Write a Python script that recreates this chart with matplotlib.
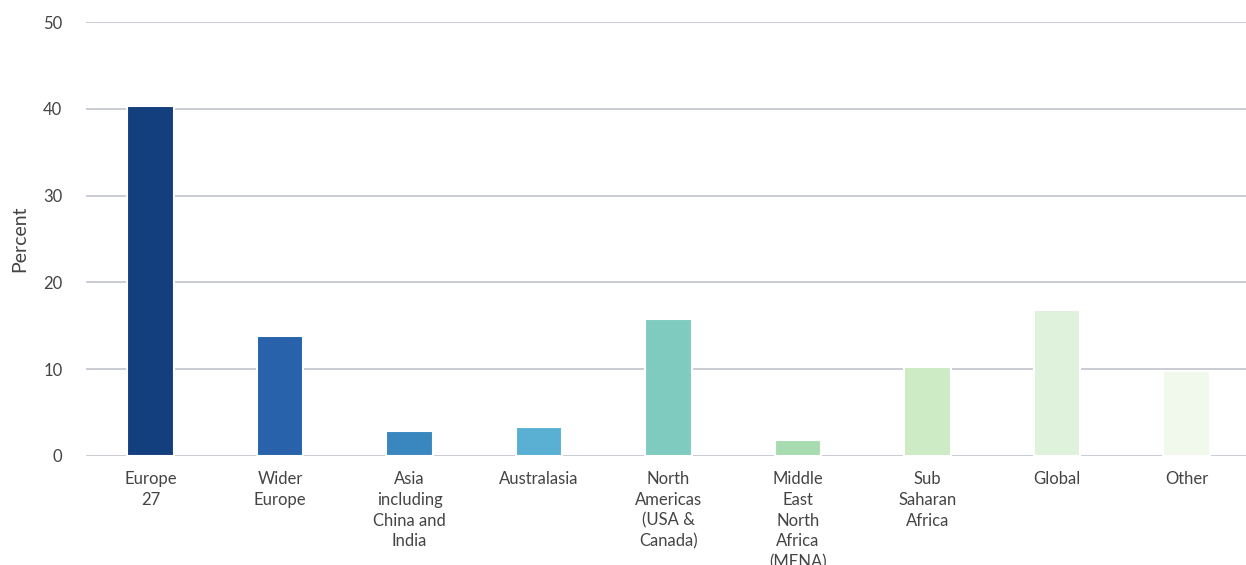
import matplotlib
matplotlib.use("Agg")
import matplotlib.pyplot as plt

# regions and share of responses (percent)
regions = ["Europe\n27", "Wider\nEurope", "Asia\nincluding\nChina and\nIndia", "Australasia",
           "North\nAmericas\n(USA &\nCanada)", "Middle\nEast\nNorth\nAfrica\n(MENA)",
           "Sub\nSaharan\nAfrica", "Global", "Other"]
percent = [40.3, 13.8, 2.9, 3.3, 15.8, 1.8, 10.2, 16.8, 9.8]
colours = ["#143f7f", "#2762ab", "#3a87c0", "#5ab0d3", "#7fcbc0",
           "#a7dcb0", "#cdebc4", "#dff2dc", "#f1f8ec"]
yticks = [0, 10, 20, 30, 40, 50]

plt.rcParams['font.family'] = ['Lato', 'DejaVu Sans']

fig = plt.figure(figsize=(12.46, 5.65), dpi=100)
ax = fig.add_axes([0.069, 0.193, 0.931, 0.768])

x = list(range(len(regions)))
ax.bar(x, percent, width=0.36, color=colours, edgecolor="white", linewidth=1.5, zorder=3)

ax.set_xlim(-0.5, 8.46)
ax.set_ylim(0, 50)
ax.set_yticks(yticks)
ax.set_xticks(x)
ax.set_xticklabels(regions, fontsize=12, color="#444444", linespacing=1.36, va="top")
ax.tick_params(axis="y", labelsize=12, labelcolor="#444444", length=0, pad=17)
ax.tick_params(axis="x", length=0, pad=11)
ax.yaxis.grid(True, color="#c6c8d0", linewidth=1.3, zorder=0)
ax.set_axisbelow(True)
for s in ax.spines.values():
    s.set_visible(False)
ax.set_ylabel("Percent", fontsize=14, color="#444444")
ax.yaxis.set_label_coords(-0.05, 0.5)

fig.savefig("out.png", dpi=100)
